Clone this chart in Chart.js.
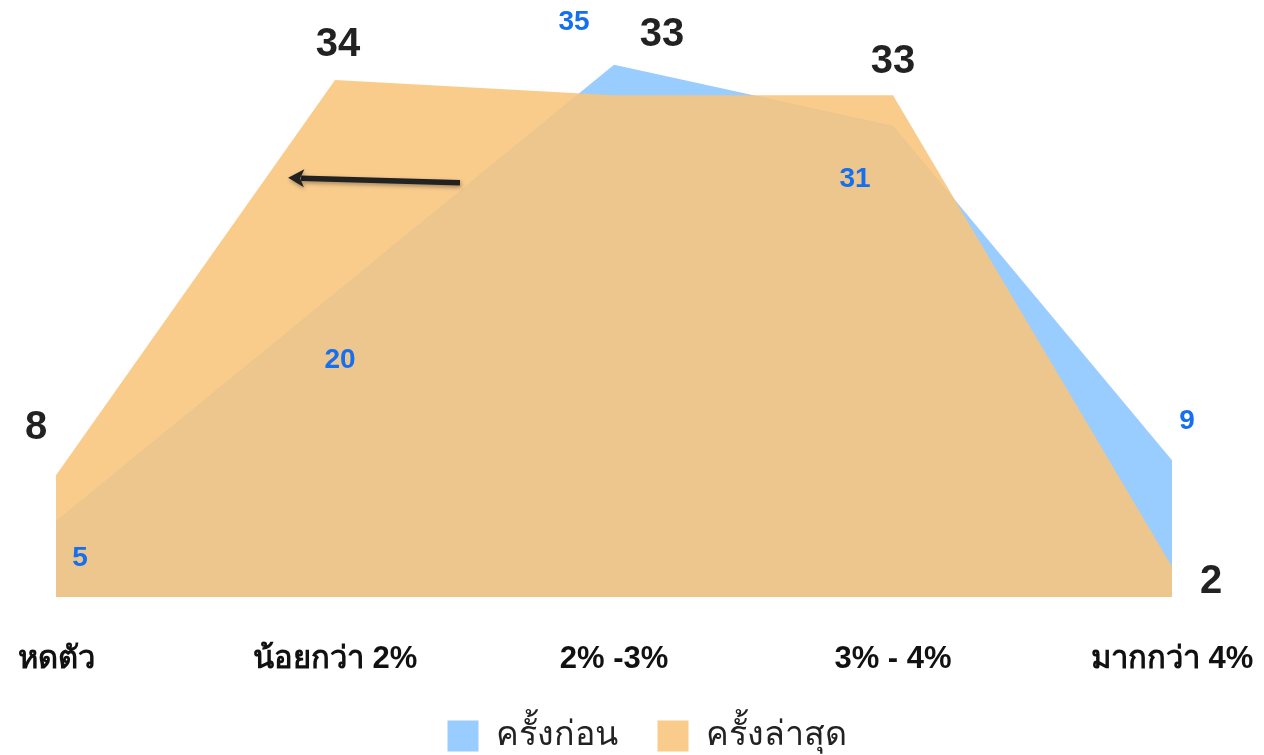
<!DOCTYPE html>
<html><head><meta charset="utf-8">
<script src="https://cdn.jsdelivr.net/npm/chart.js@4"></script>
<style>html,body{margin:0;padding:0;background:#fff}#wrap{width:1264px;height:755px}</style>
</head><body><div id="wrap"><canvas id="c"></canvas></div>
<script>
const categories = ['หดตัว', 'น้อยกว่า 2%', '2% -3%', '3% - 4%', 'มากกว่า 4%'];
const seriesNames = ['ครั้งก่อน', 'ครั้งล่าสุด'];
const previousValues = [5, 20, 35, 31, 9];
const latestValues = [8, 34, 33, 33, 2];
const yMin = 0;
const yMax = 39;

const FONT = "'Liberation Sans', Arial, sans-serif";
const LEGEND_HEIGHT = 76;
const LEGEND_SHIFT = 33;
const XAXIS_HEIGHT = 82;
const labelOffsets = {
  latest: [[-20,-47],[3,-35],[48,-60],[0,-33],[39,15]],
  previous: [[24,37],[5,67],[-40,-43],[-38,54],[15,-39]]
};

const legendHeightPlugin = {
  id: 'legendHeight',
  beforeLayout(chart) {
    const lg = chart.legend;
    if (lg && !lg._fixedH) {
      const orig = lg.fit.bind(lg);
      lg.fit = function () { orig(); this.height = LEGEND_HEIGHT; };
      lg._fixedH = true;
    }
  },
  afterLayout(chart) {
    const lg = chart.legend;
    if (lg) { lg.left += LEGEND_SHIFT; lg.right += LEGEND_SHIFT; }
  }
};

const labelPlugin = {
  id: 'labels',
  afterDatasetsDraw(chart) {
    const ctx = chart.ctx;
    const xs = chart.scales.x, ys = chart.scales.y;
    const tail = {x: xs.getPixelForValue(1.448), y: ys.getPixelForValue(27.24)};
    const tip = {x: xs.getPixelForValue(0.832), y: ys.getPixelForValue(27.57)};
    ctx.save();
    ctx.shadowColor = 'rgba(0,0,0,0.35)';
    ctx.shadowBlur = 4; ctx.shadowOffsetX = 1; ctx.shadowOffsetY = 2;
    ctx.strokeStyle = '#222'; ctx.fillStyle = '#222';
    const ang = Math.atan2(tip.y - tail.y, tip.x - tail.x);
    const headLen = 16, headW = 9;
    const bx = tip.x - headLen*Math.cos(ang), by = tip.y - headLen*Math.sin(ang);
    ctx.lineWidth = 5.5;
    ctx.beginPath(); ctx.moveTo(tail.x, tail.y); ctx.lineTo(bx + 3*Math.cos(ang), by + 3*Math.sin(ang)); ctx.stroke();
    ctx.beginPath();
    ctx.moveTo(tip.x, tip.y);
    ctx.lineTo(bx + headW*Math.sin(ang), by - headW*Math.cos(ang));
    ctx.lineTo(bx + 4*Math.cos(ang), by + 4*Math.sin(ang));
    ctx.lineTo(bx - headW*Math.sin(ang), by + headW*Math.cos(ang));
    ctx.closePath(); ctx.fill();
    ctx.restore();

    ctx.save();
    ctx.textAlign = 'center'; ctx.textBaseline = 'middle';
    const draw = (vals, offs, font, color) => {
      ctx.font = font; ctx.fillStyle = color;
      vals.forEach((v, i) => {
        const px = xs.getPixelForValue(i), py = ys.getPixelForValue(v);
        ctx.fillText(String(v), px + offs[i][0], py + offs[i][1]);
      });
    };
    draw(previousValues, labelOffsets.previous, 'bold 28px ' + FONT, '#1470f0');
    draw(latestValues, labelOffsets.latest, 'bold 40px ' + FONT, '#222222');
    ctx.restore();
  }
};

new Chart(document.getElementById('c'), {
  type: 'line',
  data: {
    labels: categories,
    datasets: [
      { label: seriesNames[1], data: latestValues, backgroundColor: 'rgba(248,196,123,0.87)', borderWidth: 0, pointRadius: 0, fill: 'origin', tension: 0 },
      { label: seriesNames[0], data: previousValues, backgroundColor: 'rgb(153,204,255)', borderWidth: 0, pointRadius: 0, fill: 'origin', tension: 0 }
    ]
  },
  options: {
    responsive: true, maintainAspectRatio: false, animation: false,
    layout: { padding: { left: 56, right: 92, top: 4, bottom: 0 } },
    plugins: {
      tooltip: { enabled: false },
      legend: {
        position: 'bottom', reverse: true,
        labels: { boxWidth: 31, boxHeight: 31, padding: 40, color: '#222', font: { family: FONT, size: 34 } }
      }
    },
    scales: {
      x: {
        offset: false,
        afterFit(s) { s.paddingLeft = 0; s.paddingRight = 0; s.height = XAXIS_HEIGHT; },
        grid: { display: false, drawTicks: false }, border: { display: false },
        ticks: { color: '#111', padding: 44, maxRotation: 0, autoSkip: false, font: { family: FONT, size: 31, weight: 'bold' } }
      },
      y: { display: false, min: yMin, max: yMax }
    }
  },
  plugins: [legendHeightPlugin, labelPlugin]
});
</script></body></html>
